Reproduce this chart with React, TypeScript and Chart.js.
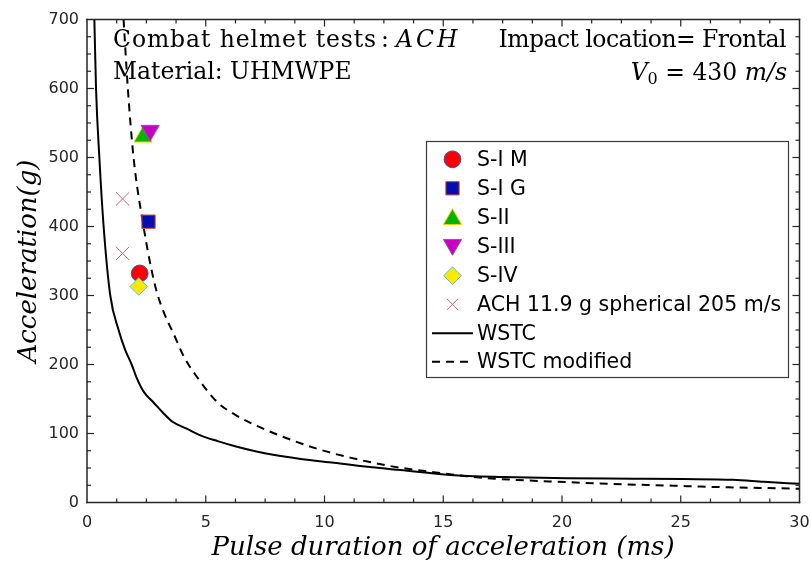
import React, { useEffect, useRef } from "react";
import { Chart, registerables } from "chart.js";

Chart.register(...registerables);

// ---- data ----
const xTickValues = [0, 5, 10, 15, 20, 25, 30];
const yTickValues = [0, 100, 200, 300, 400, 500, 600, 700];

const seriesNames = [
  "S-I M",
  "S-I G",
  "S-II",
  "S-III",
  "S-IV",
  "ACH 11.9 g spherical 205 m/s",
  "WSTC",
  "WSTC modified",
];

const sIMx = [2.22];
const sIMy = [332];
const sIGx = [2.59];
const sIGy = [407];
const sIIx = [2.36];
const sIIy = [530];
const sIIIx = [2.66];
const sIIIy = [539];
const sIVx = [2.18];
const sIVy = [313];
const achX = [1.5, 1.5];
const achY = [440, 361];

const wstcX = [0.31, 0.38, 0.52, 0.7, 0.98, 1.33, 1.6, 1.88, 2.1, 2.4, 2.8, 3.2, 3.6, 4.2, 4.8, 5.5, 6.2, 7.0, 7.6, 9.0, 10.4, 12, 13.2, 15.3, 17.5, 20.2, 23, 25.1, 27.2, 28.5, 30];
const wstcY = [700, 600, 500, 400, 300, 250, 222, 200, 180, 160, 145, 130, 117, 107, 97, 89, 82, 75, 70.5, 63, 57.5, 51, 47, 40, 37, 35, 34.5, 34, 33, 30, 27];

const wstcModX = [1.54, 1.72, 1.96, 2.38, 2.7, 2.94, 3.3, 3.64, 4.1, 4.63, 5.5, 6.2, 6.9, 8.27, 9.68, 11.08, 12.9, 14.6, 16, 17.4, 20.2, 22, 24.4, 27, 30];
const wstcModY = [700, 600, 500, 400, 340, 305, 270, 245, 210, 182, 145, 128, 115, 95, 78, 65, 52, 44, 38, 34, 29.5, 27, 24.6, 22, 20];

const zip = (xs: number[], ys: number[]) => xs.map((x, i) => ({ x, y: ys[i] }));

// ---- styles ----
type MarkerStyle = { shape: string; r: number; fill: string; stroke: string; rot?: number };
const markerStyles: MarkerStyle[] = [
  { shape: "circle", r: 8.4, fill: "#ff0000", stroke: "#2060c0" },
  { shape: "rect", r: 9.4, fill: "#0010b0", stroke: "#e04828" },
  { shape: "triangle", r: 10.5, fill: "#00b400", stroke: "#ffcc00", rot: 0 },
  { shape: "triangle", r: 10.5, fill: "#c800c0", stroke: "#9050c0", rot: 180 },
  { shape: "rectRot", r: 8.8, fill: "#ffe800", stroke: "#40c8f0" },
  { shape: "crossRot", r: 9.4, fill: "#d0606e", stroke: "#d0606e" },
];

const FRAME = "#262626";

function drawMarker(ctx: CanvasRenderingContext2D, s: MarkerStyle, x: number, y: number) {
  ctx.save();
  ctx.setLineDash([]);
  ctx.fillStyle = s.fill;
  ctx.strokeStyle = s.stroke;
  ctx.lineWidth = 1;
  ctx.beginPath();
  const r = s.r;
  if (s.shape === "circle") {
    ctx.arc(x, y, r, 0, Math.PI * 2);
  } else if (s.shape === "rect") {
    const h = r * Math.SQRT1_2;
    ctx.rect(x - h, y - h, 2 * h, 2 * h);
  } else if (s.shape === "triangle") {
    let a = ((s.rot || 0) * Math.PI) / 180;
    ctx.moveTo(x + Math.sin(a) * r, y - Math.cos(a) * r);
    a += (2 * Math.PI) / 3;
    ctx.lineTo(x + Math.sin(a) * r, y - Math.cos(a) * r);
    a += (2 * Math.PI) / 3;
    ctx.lineTo(x + Math.sin(a) * r, y - Math.cos(a) * r);
    ctx.closePath();
  } else if (s.shape === "rectRot") {
    ctx.moveTo(x, y - r);
    ctx.lineTo(x + r, y);
    ctx.lineTo(x, y + r);
    ctx.lineTo(x - r, y);
    ctx.closePath();
  } else if (s.shape === "crossRot") {
    const h = r * Math.SQRT1_2;
    ctx.moveTo(x - h, y - h);
    ctx.lineTo(x + h, y + h);
    ctx.moveTo(x + h, y - h);
    ctx.lineTo(x - h, y + h);
    ctx.stroke();
    ctx.restore();
    return;
  }
  ctx.fill();
  ctx.stroke();
  ctx.restore();
}

const framePlugin = {
  id: "framePlugin",
  afterDraw(chart: any) {
    const ctx: CanvasRenderingContext2D = chart.ctx;
    const xs = chart.scales.x;
    const ys = chart.scales.y;
    const L = xs.getPixelForValue(0);
    const R = xs.getPixelForValue(30);
    const T = ys.getPixelForValue(700);
    const B = ys.getPixelForValue(0);
    const w = 1.5;
    const h = w / 2;
    ctx.save();
    ctx.fillStyle = FRAME;
    ctx.fillRect(L - h, T - h, R - L + w, w);
    ctx.fillRect(L - h, B - h, R - L + w, w);
    ctx.fillRect(L - h, T - h, w, B - T + w);
    ctx.fillRect(R - h, T - h, w, B - T + w);
    for (let i = 1; i < 24; i++) {
      const v = i * 1.25;
      const len = i % 4 === 0 ? 7 : 4;
      const px = xs.getPixelForValue(v);
      ctx.fillRect(px - 0.6, B - len, 1.2, len);
      ctx.fillRect(px - 0.6, T, 1.2, len);
    }
    for (let i = 1; i < 28; i++) {
      const v = i * 25;
      const len = i % 4 === 0 ? 7 : 4;
      const py = ys.getPixelForValue(v);
      ctx.fillRect(L, py - 0.6, len, 1.2);
      ctx.fillRect(R - len, py - 0.6, len, 1.2);
    }
    ctx.restore();

    // ---- annotation texts ----
    ctx.save();
    ctx.fillStyle = "#000";
    ctx.textBaseline = "alphabetic";
    const roman = "23.5px 'DejaVu Serif'";
    const ital = "italic 23.5px 'DejaVu Serif'";
    ctx.font = roman;
    ctx.textAlign = "left";
    const l1 = "Combat helmet tests";
    (ctx as any).letterSpacing = "0.9px";
    ctx.fillText(l1, 113, 47);
    let cx = 113 + ctx.measureText(l1).width + 4;
    (ctx as any).letterSpacing = "0px";
    ctx.fillText(":", cx, 47);
    cx += ctx.measureText(":").width + 7;
    ctx.font = ital;
    (ctx as any).letterSpacing = "3px";
    ctx.fillText("ACH", cx, 47);
    (ctx as any).letterSpacing = "0px";
    ctx.font = roman;
    ctx.fillText("Material: UHMWPE", 113, 79);

    ctx.textAlign = "right";
    (ctx as any).letterSpacing = "-0.55px";
    ctx.fillText("Impact location= Frontal", 786, 47);
    (ctx as any).letterSpacing = "0px";
    const pieces = [
      { t: "V", f: ital, dy: 0 },
      { t: "0", f: "16px 'DejaVu Serif'", dy: 4 },
      { t: " = 430 ", f: roman, dy: 0 },
      { t: "m/s", f: ital, dy: 0 },
    ];
    let total = 0;
    for (const p of pieces) {
      ctx.font = p.f;
      total += ctx.measureText(p.t).width;
    }
    ctx.textAlign = "left";
    let px = 787 - total;
    for (const p of pieces) {
      ctx.font = p.f;
      ctx.fillText(p.t, px, 80 + p.dy);
      px += ctx.measureText(p.t).width;
    }

    // axis titles
    ctx.font = "italic 26px 'DejaVu Serif'";
    ctx.textAlign = "center";
    ctx.fillText("Pulse duration of acceleration (ms)", 443, 555);
    ctx.save();
    ctx.translate(36, 261);
    ctx.rotate(-Math.PI / 2);
    ctx.fillText("Acceleration(g)", 0, 0);
    ctx.restore();
    ctx.restore();

    // ---- legend ----
    ctx.save();
    const bx = 426.5, by = 141.5, bw = 362, bh = 236;
    ctx.fillStyle = "#fff";
    ctx.fillRect(bx, by, bw, bh);
    ctx.strokeStyle = "#3a3a3a";
    ctx.lineWidth = 1.2;
    ctx.setLineDash([]);
    ctx.strokeRect(bx, by, bw, bh);
    const rowY = [159.3, 188.3, 217.3, 246.7, 275.7, 304.3, 333.3, 361.7];
    ctx.font = "20.5px 'DejaVu Sans'";
    ctx.textBaseline = "middle";
    ctx.textAlign = "left";
    for (let i = 0; i < seriesNames.length; i++) {
      const y = rowY[i];
      if (i < 6) {
        const s = markerStyles[i];
        let my = y;
        if (s.shape === "triangle") my = s.rot ? y - 2 : y + 2;
        drawMarker(ctx, { ...s, r: s.shape === "crossRot" ? 8 : s.r }, 452.5, my);
      } else {
        ctx.save();
        ctx.strokeStyle = "#000";
        ctx.lineWidth = 2;
        ctx.setLineDash(i === 7 ? [8, 6] : []);
        ctx.beginPath();
        ctx.moveTo(432, y);
        ctx.lineTo(473, y);
        ctx.stroke();
        ctx.restore();
      }
      ctx.fillStyle = "#000";
      ctx.fillText(seriesNames[i], 477, y + 1);
    }
    ctx.restore();
  },
};

function pointDataset(label: string, xs: number[], ys: number[], s: MarkerStyle, order: number) {
  return {
    label,
    data: zip(xs, ys),
    showLine: false,
    pointStyle: s.shape,
    pointRadius: s.r,
    pointRotation: s.rot || 0,
    pointBackgroundColor: s.fill,
    pointBorderColor: s.stroke,
    pointBorderWidth: 1,
    backgroundColor: s.fill,
    borderColor: s.stroke,
    order,
  };
}

export default function App() {
  const ref = useRef<HTMLCanvasElement | null>(null);
  useEffect(() => {
    if (!ref.current) return;
    const chart = new Chart(ref.current, {
      type: "scatter",
      data: {
        datasets: [
          {
            label: seriesNames[6],
            data: zip(wstcX, wstcY),
            showLine: true,
            borderColor: "#000",
            borderWidth: 2,
            pointRadius: 0,
            cubicInterpolationMode: "monotone",
            order: 10,
          } as any,
          {
            label: seriesNames[7],
            data: zip(wstcModX, wstcModY),
            showLine: true,
            borderColor: "#000",
            borderWidth: 2,
            borderDash: [8, 6],
            pointRadius: 0,
            cubicInterpolationMode: "monotone",
            order: 9,
          } as any,
          pointDataset(seriesNames[5], achX, achY, markerStyles[5], 6),
          pointDataset(seriesNames[0], sIMx, sIMy, markerStyles[0], 5),
          pointDataset(seriesNames[1], sIGx, sIGy, markerStyles[1], 4),
          pointDataset(seriesNames[2], sIIx, sIIy, markerStyles[2], 3),
          pointDataset(seriesNames[3], sIIIx, sIIIy, markerStyles[3], 2),
          pointDataset(seriesNames[4], sIVx, sIVy, markerStyles[4], 1),
        ] as any,
      },
      options: {
        animation: false,
        responsive: false,
        devicePixelRatio: 1,
        layout: { padding: { left: 0, right: 11, top: 19.5, bottom: 0 } },
        plugins: { legend: { display: false }, tooltip: { enabled: false } },
        scales: {
          x: {
            type: "linear",
            min: 0,
            max: 30,
            afterBuildTicks: (scale: any) => {
              scale.ticks = xTickValues.map((v) => ({ value: v }));
            },
            afterFit: (scale: any) => {
              scale.height = 61.5;
            },
            grid: { display: false, drawTicks: true, tickLength: 11 },
            border: { display: false },
            ticks: {
              padding: 0,
              color: FRAME,
              font: { family: "'DejaVu Sans'", size: 16 },
              maxRotation: 0,
            },
          },
          y: {
            type: "linear",
            min: 0,
            max: 700,
            afterBuildTicks: (scale: any) => {
              scale.ticks = yTickValues.map((v) => ({ value: v }));
            },
            afterFit: (scale: any) => {
              scale.width = 87;
            },
            grid: { display: false, drawTicks: true, tickLength: 8 },
            border: { display: false },
            ticks: {
              padding: 0,
              color: FRAME,
              font: { family: "'DejaVu Sans'", size: 16 },
            },
          },
        },
      } as any,
      plugins: [framePlugin],
    });
    return () => chart.destroy();
  }, []);
  return (
    <div style={{ position: "absolute", left: 0, top: 0, width: 811, height: 564, background: "#fff" }}>
      <canvas ref={ref} width={811} height={564} style={{ width: 811, height: 564, display: "block" }} />
    </div>
  );
}
